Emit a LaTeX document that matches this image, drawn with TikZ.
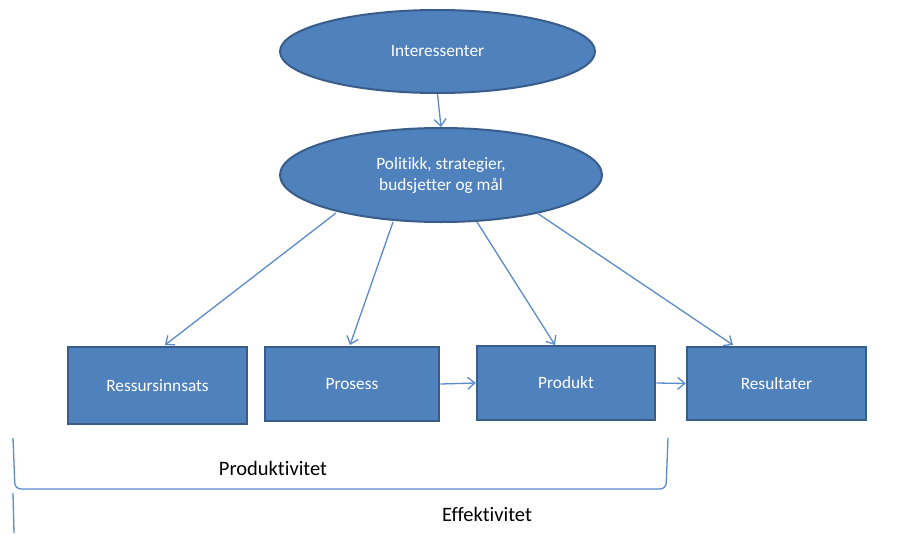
\documentclass[tikz,border=0pt]{standalone}
\usepackage{fontspec}
\setmainfont{Carlito}[RawFeature={-liga}]
\usetikzlibrary{shapes.geometric,arrows.meta}
\definecolor{fillblue}{HTML}{4F81BD}
\definecolor{edgeblue}{HTML}{385D8A}
\definecolor{linkblue}{HTML}{5B8BC9}
\begin{document}
\begin{tikzpicture}[x=1pt,y=-1pt,
  oval/.style={ellipse,fill=fillblue,draw=edgeblue,line width=2pt,inner sep=0pt,text=white,font=\fontsize{17.3}{21}\selectfont,align=center},
  boxnode/.style={rectangle,fill=fillblue,draw=edgeblue,line width=2.6pt,inner sep=0pt,text=white,font=\fontsize{17.3}{21}\selectfont},
  link/.style={draw=linkblue,line width=1.3pt,-{Straight Barb[length=7pt,width=12pt,line width=1.3pt]}},
  bracket/.style={draw=linkblue,line width=1.3pt,rounded corners=6pt},
  lbl/.style={font=\fontsize{20.5}{24}\selectfont,text=black,inner sep=0pt}]
\useasboundingbox (0,0) rectangle (899,533);
\fill[white] (0,0) rectangle (899,533);
\node[oval,minimum width=315pt,minimum height=83pt] (int) at (437.5,51.5) {Interessenter};
\node[oval,minimum width=322pt,minimum height=94pt] (pol) at (441,175) {Politikk, strategier,\\budsjetter og mål};
\node[boxnode,minimum width=179pt,minimum height=77pt] (res) at (157.5,385.5) {Ressursinnsats};
\node[boxnode,minimum width=174pt,minimum height=74pt] (pro) at (352,384) {Prosess};
\node[boxnode,minimum width=178pt,minimum height=74pt] (prd) at (566,383) {Produkt};
\node[boxnode,minimum width=179pt,minimum height=73pt] (rsl) at (776.5,383.5) {Resultater};
\coordinate (a1s) at (336,213);
\coordinate (a2s) at (393,222);
\coordinate (a3s) at (477,222);
\coordinate (a4s) at (537,213);
\coordinate (a1e) at (165,345);
\coordinate (a2e) at (350,345);
\coordinate (a3e) at (555,345);
\coordinate (a4e) at (733,345);
\draw[link] (int.south) -- (pol.north);
\draw[link] (a1s) -- (a1e);
\draw[link] (a2s) -- (a2e);
\draw[link] (a3s) -- (a3e);
\draw[link] (a4s) -- (a4e);
\draw[link] (pro.east) -- (prd.west);
\draw[link] (prd.east) -- (rsl.west);
\draw[bracket] (13,438) -- (15,489) -- (666,489) -- (668,438);
\draw[draw=linkblue,line width=1.3pt] (13,493) -- (14,533);
\node[lbl] (prodlbl) at (273,468) {Produktivitet};
\node[lbl] (efflbl) at (487,514) {Effektivitet};
\end{tikzpicture}
\end{document}
